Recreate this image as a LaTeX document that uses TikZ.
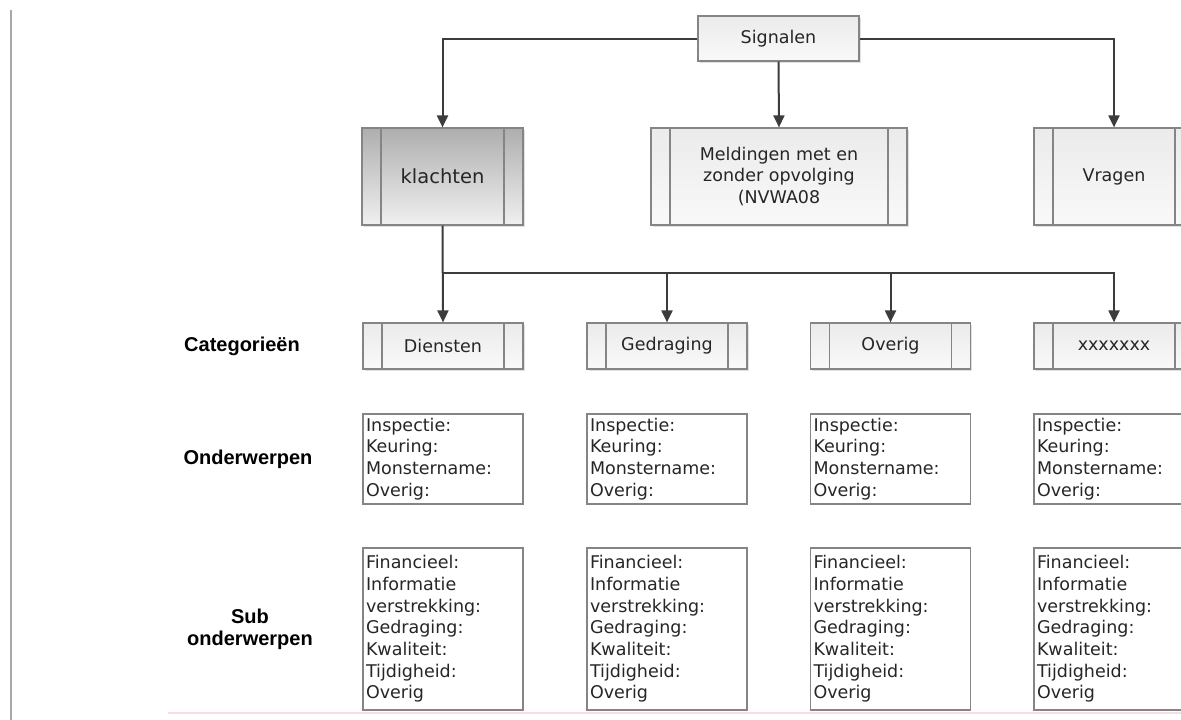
\documentclass[tikz,border=0pt]{standalone}
\usepackage{fontspec}
\setmainfont{DejaVu Sans}
\newfontfamily\labfont{Liberation Sans}
\usetikzlibrary{arrows.meta,shadows}
\definecolor{boxline}{HTML}{858585}
\definecolor{connc}{HTML}{3C3C3C}
\definecolor{lighttop}{HTML}{EBEBEB}
\definecolor{lightbot}{HTML}{F9F9F9}
\definecolor{darktop}{HTML}{AEAEAE}
\definecolor{darkbot}{HTML}{F0F0F0}
\definecolor{leftbar}{HTML}{A8A8A8}
\definecolor{pinkline}{HTML}{F8DCE4}
\tikzset{
  boxtxt/.style={font=\fontsize{17.5}{21.7}\selectfont, text=black!85},
  plainbox/.style={draw=boxline, line width=1.2pt, top color=lighttop, bottom color=lightbot,
    boxtxt, align=center, inner sep=0pt,
    drop shadow={shadow xshift=1.5pt, shadow yshift=-1.5pt, fill=black, opacity=0.12}},
  procbox/.style={plainbox,
    path picture={
      \draw[boxline, line width=1.2pt] ([xshift=19pt]path picture bounding box.north west) -- ([xshift=19pt]path picture bounding box.south west);
      \draw[boxline, line width=1.2pt] ([xshift=-19pt]path picture bounding box.north east) -- ([xshift=-19pt]path picture bounding box.south east);
    }},
  darkbox/.style={procbox, top color=darktop, bottom color=darkbot},
  listbox/.style={draw=boxline, line width=1.2pt, fill=white, boxtxt, align=left,
    text width=154pt, inner xsep=3pt, inner ysep=1pt},
  rowlab/.style={font=\labfont\bfseries\fontsize{20}{22}\selectfont, align=center, text=black},
  conn/.style={draw=connc, line width=2pt, -{Triangle[length=12pt,width=11pt]}, color=connc},
}
\begin{document}
\begin{tikzpicture}[x=1pt, y=-1pt]
\clip (0,0) rectangle (1181,720);
\fill[white] (0,0) rectangle (1181,720);

% page decorations
\draw[leftbar, line width=2.5pt] (11,10) -- (11,720);
\draw[pinkline, line width=2pt] (168,713) -- (1181,713);

% top level
\node[plainbox, minimum width=161pt, minimum height=45pt] (sig) at (778.5,38.5) {Signalen};
\node[darkbox, minimum width=161pt, minimum height=97pt, font=\fontsize{19.5}{22}\selectfont] (kla) at (442.5,176.5) {klachten};
\node[procbox, minimum width=256pt, minimum height=97pt] (mel) at (779,176.5) {Meldingen met en\\zonder opvolging\\(NVWA08};
\node[procbox, minimum width=160pt, minimum height=97pt] (vra) at (1114,176.5) {Vragen};

% categories
\node[procbox, minimum width=160pt, minimum height=46pt] (cat1) at (443,346) {Diensten};
\node[procbox, minimum width=160pt, minimum height=46pt] (cat2) at (667,346) {Gedraging};
\node[procbox, minimum width=160pt, minimum height=46pt] (cat3) at (890.5,346) {Overig};
\node[procbox, minimum width=160pt, minimum height=46pt] (cat4) at (1114,346) {xxxxxxx};

% onderwerpen
\node[listbox, minimum height=90pt] (ond1) at (443,459) {Inspectie:\\Keuring:\\Monstername:\\Overig:};
\node[listbox, minimum height=90pt] (ond2) at (667,459) {Inspectie:\\Keuring:\\Monstername:\\Overig:};
\node[listbox, minimum height=90pt] (ond3) at (890.5,459) {Inspectie:\\Keuring:\\Monstername:\\Overig:};
\node[listbox, minimum height=90pt] (ond4) at (1114,459) {Inspectie:\\Keuring:\\Monstername:\\Overig:};

% sub onderwerpen
\node[listbox, minimum height=162pt] (sub1) at (443,629) {Financieel:\\Informatie\\verstrekking:\\Gedraging:\\Kwaliteit:\\Tijdigheid:\\Overig};
\node[listbox, minimum height=162pt] (sub2) at (667,629) {Financieel:\\Informatie\\verstrekking:\\Gedraging:\\Kwaliteit:\\Tijdigheid:\\Overig};
\node[listbox, minimum height=162pt] (sub3) at (890.5,629) {Financieel:\\Informatie\\verstrekking:\\Gedraging:\\Kwaliteit:\\Tijdigheid:\\Overig};
\node[listbox, minimum height=162pt] (sub4) at (1114,629) {Financieel:\\Informatie\\verstrekking:\\Gedraging:\\Kwaliteit:\\Tijdigheid:\\Overig};

% row labels
\node[rowlab] (labcat) at (242,346) {Categorieën};
\node[rowlab] (labond) at (248,459) {Onderwerpen};
\node[rowlab] (labsub) at (250,629) {Sub\\onderwerpen};

% connectors
\draw[conn] (sig.west) -| (kla.north);
\draw[conn] (sig.south) -- (mel.north);
\draw[conn] (sig.east) -| (vra.north);

\coordinate (bus) at (443,273);
\draw[conn] (kla.south) -- (cat1.north);
\draw[conn] (bus) -| (cat2.north);
\draw[conn] (bus) -| (cat3.north);
\draw[conn] (bus) -| (cat4.north);
\end{tikzpicture}
\end{document}
